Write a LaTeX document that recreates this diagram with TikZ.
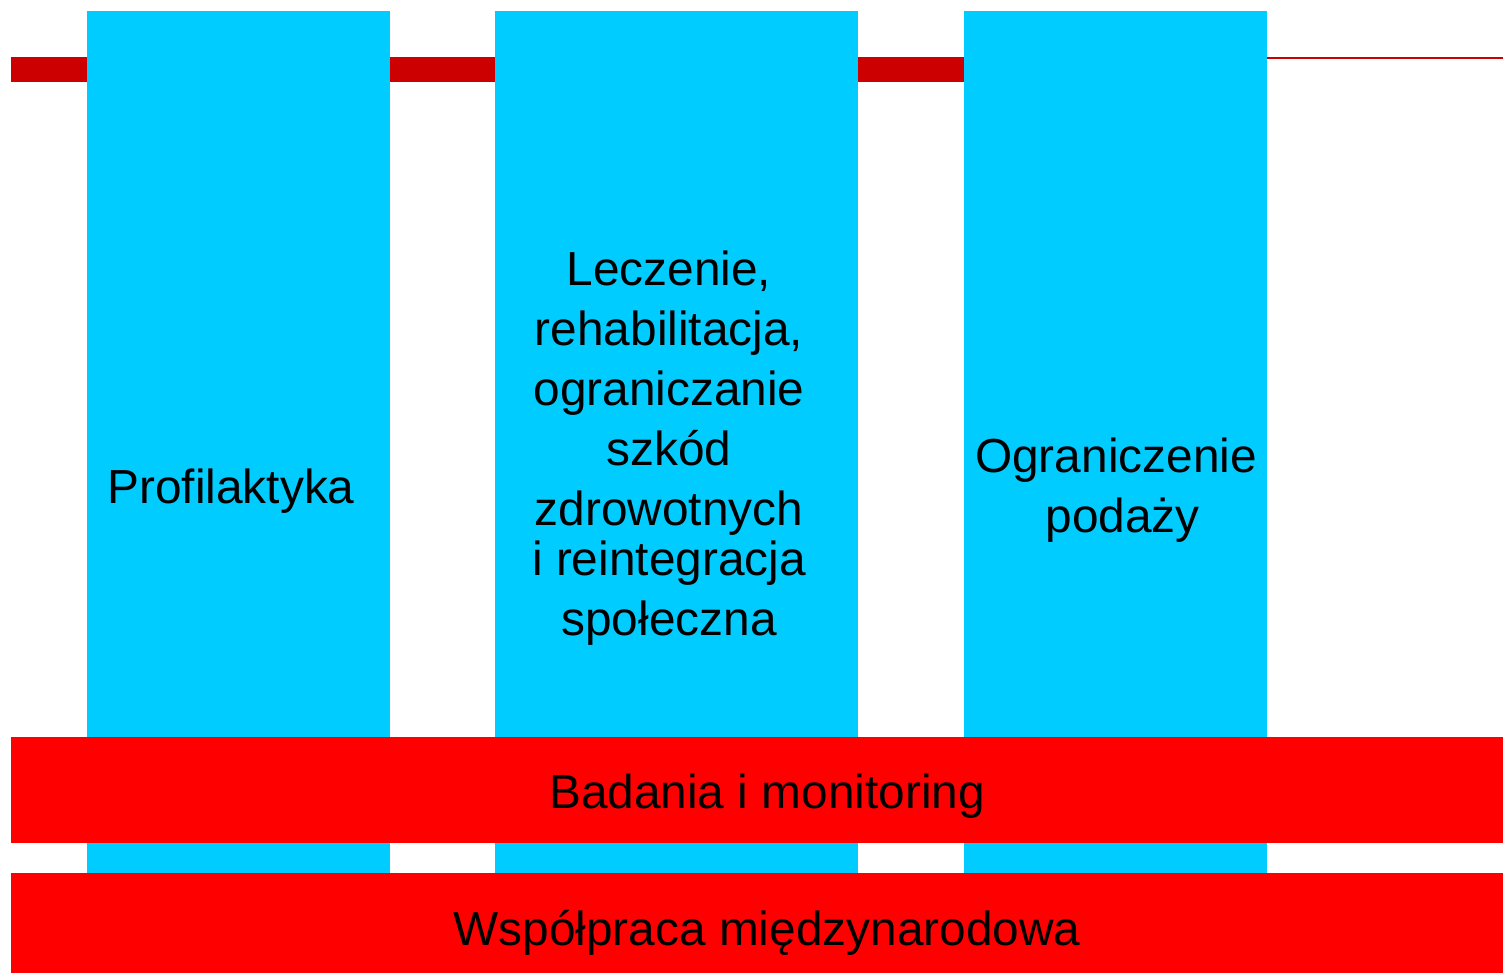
\documentclass[tikz,border=0pt]{standalone}
\usepackage{fontspec}
\setmainfont{Liberation Sans}
\definecolor{colcyan}{HTML}{00CCFF}
\definecolor{bandred}{HTML}{FF0000}
\definecolor{darkbar}{HTML}{CC0000}
\tikzset{
  colbox/.style={fill=colcyan, draw=none, inner sep=0pt, outer sep=0pt},
  bandbox/.style={fill=bandred, draw=none, inner sep=0pt, outer sep=0pt},
  bigtext/.style={font=\fontsize{47.8}{60}\selectfont, text=black, inner sep=0pt, align=center},
}
\begin{document}
\begin{tikzpicture}[x=1pt,y=-1pt]
\useasboundingbox (0,0) rectangle (1503,973);
% top red line and bar
\coordinate (lineL) at (11,58);
\coordinate (lineR) at (1503,58);
\draw[darkbar, line width=1.3pt] (lineL) -- (lineR);
\fill[darkbar] (11,58) rectangle (964,82);
% columns
\node[colbox, minimum width=303pt, minimum height=862pt] (c1) at (238.5,442) {};
\node[colbox, minimum width=363pt, minimum height=862pt] (c2) at (676.5,442) {};
\node[colbox, minimum width=303pt, minimum height=862pt] (c3) at (1115.5,442) {};
% bands
\node[bandbox, minimum width=1492pt, minimum height=106pt] (b1) at (757,790) {};
\node[bandbox, minimum width=1492pt, minimum height=100pt] (b2) at (757,923) {};
% texts
\node[bigtext, anchor=base] (t1) at (231,503) {Profilaktyka};
\node[bigtext, anchor=base] (t2) at (669,635) {Leczenie,\\rehabilitacja,\\ograniczanie\\szkód\\zdrowotnych\\[-10pt]i reintegracja\\społeczna};
\node[bigtext, anchor=base] (t3) at (1116,532) {Ograniczenie\\\hspace*{0.278em}podaży};
\node[bigtext, anchor=base] (t4) at (767,808) {Badania i monitoring};
\node[bigtext, anchor=base] (t5) at (767,945) {Współpraca międzynarodowa};
\end{tikzpicture}
\end{document}
